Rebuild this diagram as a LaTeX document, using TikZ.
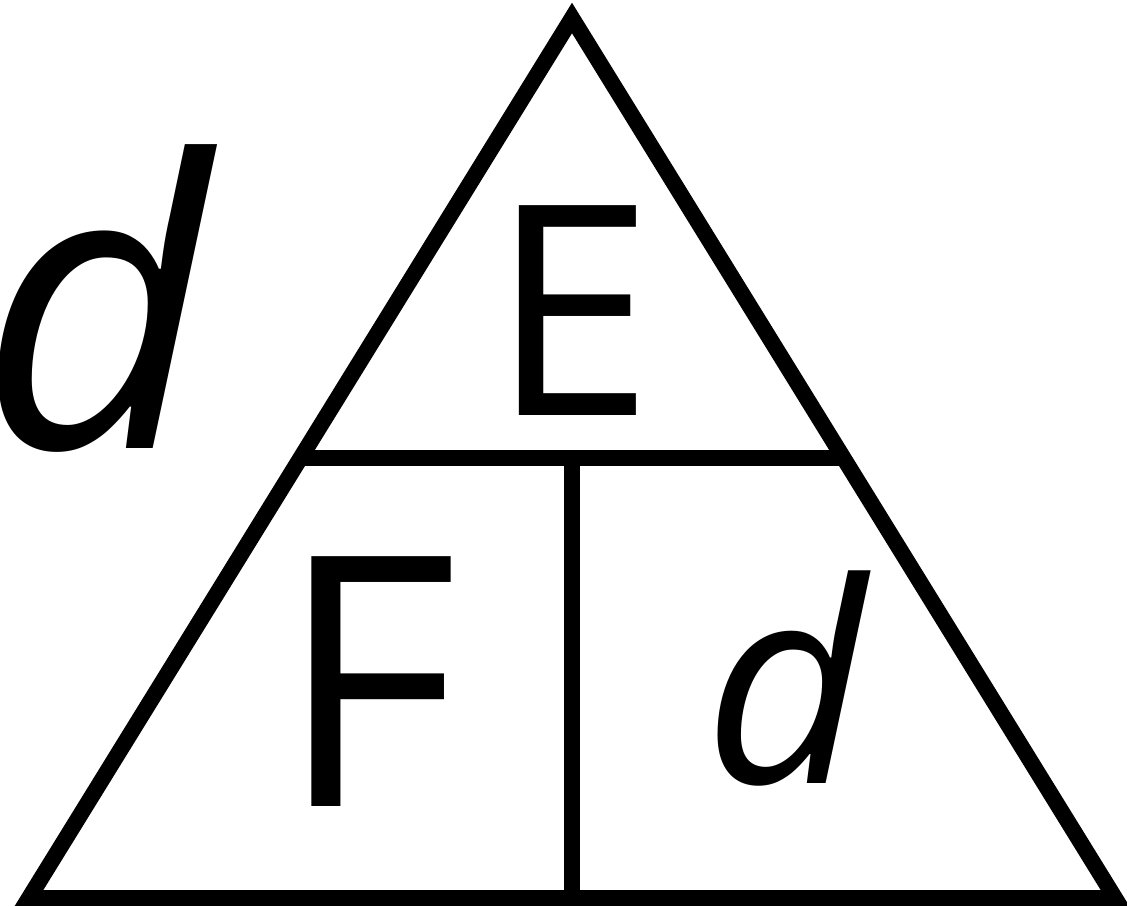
\documentclass[tikz,border=0pt]{standalone}
\usepackage{fontspec}
\setmainfont{Open Sans}
\begin{document}
\begin{tikzpicture}[x=1pt,y=-1pt,
  edge/.style={line width=16pt, line join=miter, black},
  letter/.style={inner sep=0pt, anchor=base, text=black}]
\useasboundingbox (0,0) rectangle (1127,905);
\fill[white] (0,0) rectangle (1127,905);
\coordinate (top) at (572,18);
\coordinate (bl) at (29,898);
\coordinate (br) at (1115,898);
\coordinate (hl) at (304,458);
\coordinate (hr) at (840,458);
\coordinate (vt) at (572,458);
\coordinate (vb) at (572,898);
\draw[edge] (top) -- (bl) -- (br) -- cycle;
\draw[edge, line cap=butt] (hl) -- (hr);
\draw[edge, line cap=butt] (vt) -- (vb);
\node[letter] (E) at (572,415) {\fontsize{294}{300}\selectfont E};
\node[letter] (F) at (368,806) {\fontsize{350}{360}\selectfont F};
\node[letter] (d1) at (785,783) {\fontsize{280}{290}\selectfont\itshape d};
\node[letter] (d2) at (95,448) {\fontsize{400}{410}\selectfont\itshape d};
\end{tikzpicture}
\end{document}
